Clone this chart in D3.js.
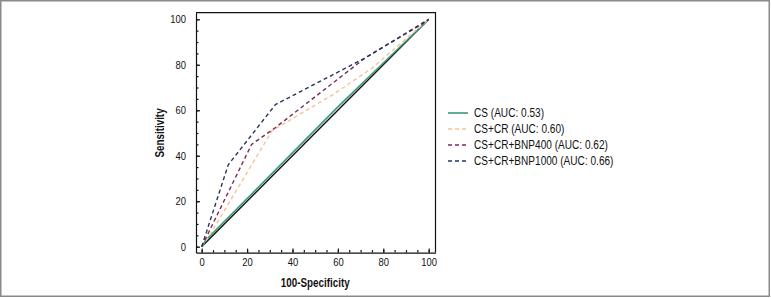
<!DOCTYPE html>
<html>
<head>
<meta charset="utf-8">
<script src="https://cdn.jsdelivr.net/npm/d3@7"></script>
<style>
  body { margin: 0; background: #fff; }
  svg { display: block; }
  text { font-family: "Liberation Sans", Arial, sans-serif; fill: #111; }
  .tick text { font-size: 11.5px; }
</style>
</head>
<body>
<div id="chart"></div>
<script>
// ROC curves, x = 100-Specificity, y = Sensitivity
const majorTicks = [0, 20, 40, 60, 80, 100];
const minorTicks = d3.range(0, 101, 5);

const seriesNames = [
  "CS (AUC: 0.53)",
  "CS+CR (AUC: 0.60)",
  "CS+CR+BNP400 (AUC: 0.62)",
  "CS+CR+BNP1000 (AUC: 0.66)"
];
const seriesColors = ["#3d9a78", "#f6c396", "#7c2c5c", "#27345f"];

const csPoints = [[0, 0], [2, 3], [60, 61.5], [100, 100]];
const csCrPoints = [[0, 0], [3.5, 5], [31, 51], [58, 67], [75, 78.5], [100, 100]];
const bnp400Points = [[0, 0], [22, 45], [32, 52], [72, 83], [97.5, 98.5], [100, 100]];
const bnp1000Points = [[0, 0], [11.7, 36], [32.5, 62.5], [72, 83], [98, 98.5], [100, 100]];
const diagonal = [[0, 0], [100, 100]];

const allSeries = [csPoints, csCrPoints, bnp400Points, bnp1000Points];

const width = 771, height = 298;
// the original uses a condensed face; squeeze the regular one
const squeeze = 0.82;

const svg = d3.select("#chart").append("svg")
  .attr("width", width)
  .attr("height", height);

// outer frame
svg.append("rect")
  .attr("x", 0.75).attr("y", 0.75)
  .attr("width", width - 2.5).attr("height", height - 2.5)
  .attr("fill", "none")
  .attr("stroke", "#8a8a8a")
  .attr("stroke-width", 1.5);

const x = d3.scaleLinear().domain([-2.5, 103]).range([196, 435.5]);
const y = d3.scaleLinear().domain([-2.6, 102.9]).range([252.6, 12.7]);

const line = d3.line().x(d => x(d[0])).y(d => y(d[1]));

// minor ticks (inward)
svg.append("g")
  .attr("transform", `translate(0,${y.range()[0]})`)
  .call(d3.axisBottom(x).tickValues(minorTicks).tickSize(-2.5).tickFormat(""))
  .call(g => g.select(".domain").remove());
svg.append("g")
  .attr("transform", `translate(${x.range()[0]},0)`)
  .call(d3.axisLeft(y).tickValues(minorTicks).tickSize(-2.5).tickFormat(""))
  .call(g => g.select(".domain").remove());

// major axes
svg.append("g")
  .attr("transform", `translate(0,${y.range()[0]})`)
  .call(d3.axisBottom(x).tickValues(majorTicks).tickSizeInner(-4).tickSizeOuter(0).tickPadding(5))
  .call(g => g.selectAll(".tick text").attr("transform", `scale(${squeeze},1)`));
svg.append("g")
  .attr("transform", `translate(${x.range()[0]},0)`)
  .call(d3.axisLeft(y).tickValues(majorTicks).tickSizeInner(-4).tickSizeOuter(0).tickPadding(10))
  .call(g => g.selectAll(".tick text")
    .attr("x", -10 / squeeze)
    .attr("transform", `scale(${squeeze},1)`));

svg.selectAll(".domain, .tick line").attr("stroke", "#111").attr("stroke-width", 1.2);

// top + right border of the plot box
svg.append("path")
  .attr("d", `M${x.range()[0]},${y.range()[1]}H${x.range()[1]}V${y.range()[0]}`)
  .attr("fill", "none")
  .attr("stroke", "#111")
  .attr("stroke-width", 1.2);

// reference diagonal
svg.append("path")
  .attr("d", line(diagonal))
  .attr("fill", "none")
  .attr("stroke", "#111")
  .attr("stroke-width", 1.4);

// curves
allSeries.forEach((pts, i) => {
  svg.append("path")
    .attr("d", line(pts))
    .attr("fill", "none")
    .attr("stroke", seriesColors[i])
    .attr("stroke-width", i === 0 ? 1.6 : 1.4)
    .attr("stroke-dasharray", i === 0 ? null : "4,3");
});

// axis titles
svg.append("text")
  .attr("transform", `translate(${(x(0) + x(100)) / 2},287) scale(${squeeze},1)`)
  .attr("text-anchor", "middle")
  .style("font-size", "12px")
  .style("font-weight", "bold")
  .text("100-Specificity");

svg.append("text")
  .attr("transform", `translate(164,${(y(0) + y(100)) / 2}) rotate(-90) scale(${squeeze},1)`)
  .attr("text-anchor", "middle")
  .style("font-size", "12px")
  .style("font-weight", "bold")
  .text("Sensitivity");

// legend
const legend = svg.append("g").attr("transform", "translate(448,113)");
seriesNames.forEach((name, i) => {
  const row = legend.append("g").attr("transform", `translate(0,${i * 16})`);
  row.append("line")
    .attr("x1", 0).attr("x2", 20)
    .attr("stroke", seriesColors[i])
    .attr("stroke-width", i === 0 ? 1.6 : 1.4)
    .attr("stroke-dasharray", i === 0 ? null : "4,3");
  row.append("text")
    .attr("transform", `translate(26,0) scale(0.84,1)`)
    .attr("dy", "0.35em")
    .style("font-size", "12px")
    .text(name);
});
</script>
</body>
</html>
